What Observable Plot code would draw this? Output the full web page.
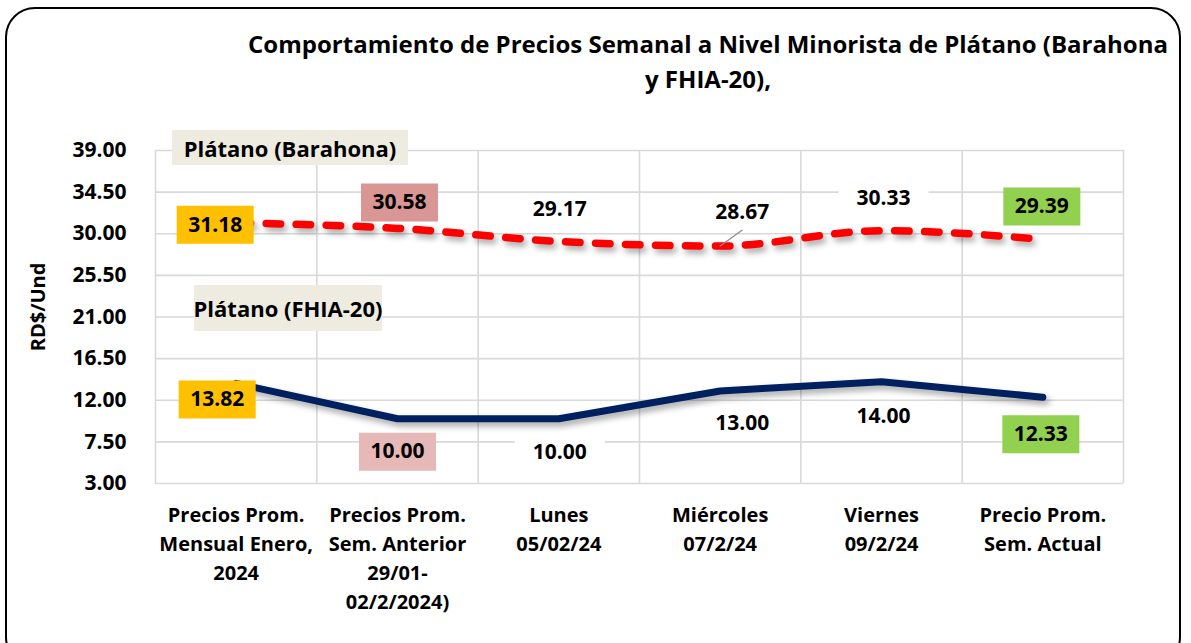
<!DOCTYPE html>
<html>
<head>
<meta charset="utf-8">
<script src="https://cdn.jsdelivr.net/npm/d3@7"></script>
<script src="https://cdn.jsdelivr.net/npm/@observablehq/plot@0.6"></script>
<style>
  html, body { margin: 0; padding: 0; background: #fff; }
  #wrap { position: relative; width: 1191px; height: 643px; overflow: hidden; font-family: "Open Sans", Lato, sans-serif; }
  #border { position: absolute; left: 5px; top: 7px; width: 1176px; height: 660px; border: 2px solid #000; border-radius: 30px; box-sizing: border-box; }
  #title { position: absolute; left: 200px; width: 1016px; top: 26px; text-align: center; font-weight: bold; font-size: 24px; line-height: 35px; color: #000; }
  .leg { position: absolute; background: #EEECE1; font-weight: bold; font-size: 22px; color: #000; display: flex; align-items: center; justify-content: center; white-space: nowrap; }
  #ylab { position: absolute; left: 37px; top: 307px; transform: translate(-50%, -50%) rotate(-90deg); font-weight: bold; font-size: 20px; white-space: nowrap; }
  #chart { position: absolute; left: 0; top: 0; }
</style>
</head>
<body>
<div id="wrap">
  <div id="chart"></div>
  <div id="border"></div>
  <div id="title">Comportamiento de Precios Semanal a Nivel Minorista de Plátano (Barahona<br>y FHIA-20),</div>
  <div class="leg" style="left:172px;top:130px;width:236px;height:35px;">Plátano (Barahona)</div>
  <div class="leg" style="left:194px;top:285px;width:188px;height:46px;">Plátano (FHIA-20)</div>
  <div id="ylab">RD$/Und</div>
</div>
<script>
const categories = [
  "Precios Prom.\nMensual Enero,\n2024",
  "Precios Prom.\nSem. Anterior\n29/01-\n02/2/2024)",
  "Lunes\n05/02/24",
  "Miércoles\n07/2/24",
  "Viernes\n09/2/24",
  "Precio Prom.\nSem. Actual"
];
const barahona = [31.18, 30.58, 29.17, 28.67, 30.33, 29.39];
const fhia = [13.82, 10.00, 10.00, 13.00, 14.00, 12.33];
const yTicks = [3.00, 7.50, 12.00, 16.50, 21.00, 25.50, 30.00, 34.50, 39.00];

// label styling (in code, not data)
const boxFill = ["#FFC000", null, "#FFFFFF", "#FFFFFF", "#FFFFFF", "#92D050"];
const barahonaBox2 = "#D99694";
const fhiaBox2 = "#E6B9B8";
const barOff = [[-21, 2], [2, -26], [1, -32], [22, -34], [2, -32], [-1, -33]];
const fhiaOff = [[-19, 16], [0, 33], [1, 34], [22, 32], [2, 35], [-2, 37]];

const rectSymbol = (w, h) => ({ draw(ctx) { ctx.rect(-w / 2, -h / 2, w, h); } });
const segShape = { draw(ctx, l) { ctx.moveTo(0, 0); ctx.lineTo(0, -l); } };

const idx = d3.range(categories.length);
const bounds = d3.range(-0.5, categories.length, 1);

function labelMarks(values, offsets, secondFill) {
  const marks = [];
  values.forEach((v, i) => {
    const [dx, dy] = offsets[i];
    const fill = i === 1 ? secondFill : boxFill[i];
    const colored = fill !== "#FFFFFF";
    marks.push(Plot.dot([i], {
      x: d => d, y: () => v, dx, dy,
      symbol: rectSymbol(colored ? 77 : 90, colored ? 38 : 30),
      r: 5, fill, stroke: "none"
    }));
    marks.push(Plot.text([i], {
      x: d => d, y: () => v, dx, dy,
      text: () => v.toFixed(2),
      fontSize: 21, fontWeight: "bold", fill: "#000"
    }));
  });
  return marks;
}

const chart = Plot.plot({
  width: 1191,
  height: 643,
  marginLeft: 155,
  marginRight: 68,
  marginTop: 150,
  marginBottom: 160,
  style: { fontFamily: "'Open Sans', Lato, sans-serif", background: "transparent", color: "#000" },
  x: { type: "linear", domain: [-0.5, categories.length - 0.5] },
  y: { type: "linear", domain: [3, 39] },
  marks: [
    Plot.gridY(yTicks, { stroke: "#D9D9D9", strokeOpacity: 1, strokeWidth: 1.6 }),
    Plot.ruleX(bounds, { stroke: "#D9D9D9", strokeOpacity: 1, strokeWidth: 1.6 }),
    Plot.axisY(yTicks, { tickSize: 0, tickPadding: 29, tickFormat: d => d.toFixed(2), fontSize: 21, fontWeight: "bold", label: null }),
    Plot.axisX(idx, { tickSize: 0, tickPadding: 18, tickFormat: i => categories[i], fontSize: 20, fontWeight: "bold", lineHeight: 1.45, label: null }),
    Plot.line(fhia, { x: (d, i) => i, y: d => d, stroke: "#002060", strokeWidth: 7, strokeLinejoin: "round", strokeLinecap: "round" }),
    Plot.line(barahona, { x: (d, i) => i, y: d => d, stroke: "#FF0000", strokeWidth: 7.5, strokeDasharray: "14.5,15.5", strokeLinecap: "round", curve: "monotone-x" }),
    Plot.vector([3], { x: d => d, y: () => barahona[3], length: 27, rotate: 54, anchor: "start", shape: segShape, stroke: "#8C8C8C", strokeWidth: 1.2 }),
    ...labelMarks(barahona, barOff, barahonaBox2),
    ...labelMarks(fhia, fhiaOff, fhiaBox2)
  ]
});

chart.querySelectorAll('g[aria-label="line"] path').forEach(p => {
  p.style.filter = "drop-shadow(3px 4px 3px rgba(0,0,0,0.35))";
});
document.getElementById("chart").appendChild(chart);
</script>
</body>
</html>
